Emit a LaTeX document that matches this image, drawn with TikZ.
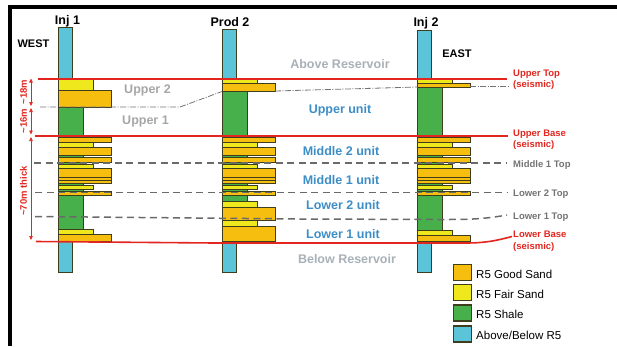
\documentclass[tikz,border=0pt]{standalone}
\usepackage{fontspec}
\setmainfont{Liberation Sans}
\usetikzlibrary{arrows.meta}

\definecolor{goodsand}{HTML}{F6BE0E}
\definecolor{fairsand}{HTML}{EEE81C}
\definecolor{shalegreen}{HTML}{47B04A}
\definecolor{outsidecyan}{HTML}{5CC4D8}
\definecolor{welledge}{HTML}{3E3E1C}
\definecolor{seisred}{HTML}{E2261F}
\definecolor{unitblue}{HTML}{3D8DC6}
\definecolor{zonegray}{HTML}{A8B0B8}
\definecolor{subgray}{HTML}{A6A6A6}
\definecolor{topgray}{HTML}{737373}
\definecolor{dashgray}{HTML}{6A6A6A}

% bar widths (pt) of each lithology in a well log
\def\wgood{53}
\def\wfair{35}
\def\wshale{25}

\tikzset{
  good/.style={fill=goodsand, draw=welledge, line width=0.7pt},
  fair/.style={fill=fairsand, draw=welledge, line width=0.7pt},
  shale/.style={fill=shalegreen, draw=welledge, line width=0.7pt},
  outside/.style={fill=outsidecyan, draw=welledge, line width=0.7pt},
  seisline/.style={draw=seisred, line width=1.6pt},
  toplineD/.style={draw=dashgray, line width=1.5pt, dash pattern=on 7pt off 4.5pt},
  thinline/.style={draw=topgray, line width=0.8pt, dash pattern=on 6pt off 1.5pt on 1pt off 1.5pt},
  welllbl/.style={font=\fontsize{12.5}{14}\selectfont\bfseries, anchor=base, inner sep=0pt},
  sidelbl/.style={font=\fontsize{11}{13}\selectfont\bfseries, anchor=base, inner sep=0pt},
  zonelbl/.style={font=\fontsize{12.5}{14}\selectfont\bfseries, text=zonegray, anchor=base, inner sep=0pt},
  sublbl/.style={font=\fontsize{12.5}{14}\selectfont\bfseries, text=subgray, anchor=base, inner sep=0pt},
  unitlbl/.style={font=\fontsize{12.5}{14}\selectfont\bfseries, text=unitblue, anchor=base, inner sep=0pt},
  redlbl/.style={font=\fontsize{9.5}{11}\selectfont\bfseries, text=seisred, anchor=base west, inner sep=0pt},
  graylbl/.style={font=\fontsize{9.5}{11}\selectfont\bfseries, text=topgray, anchor=base west, inner sep=0pt},
  thicklbl/.style={font=\fontsize{9.5}{11}\selectfont\bfseries, text=seisred, rotate=90, inner sep=0pt},
  thickarrow/.style={draw=seisred, line width=0.6pt, {Triangle[length=4pt,width=3.5pt]}-{Triangle[length=4pt,width=3.5pt]}},
  legbox/.style={draw=welledge, line width=1.1pt, minimum width=18pt, minimum height=16pt, inner sep=0pt},
  legtext/.style={font=\fontsize{11.5}{13}\selectfont, anchor=base west, inner sep=0pt}
}

% a well log: #1 left edge, #2 top of the cap above the reservoir, #3 beds
\newcommand\welllog[3]{%
  \draw[outside] (#1,#2) rectangle ({#1+14},79);
  \draw[outside] (#1,241.5) rectangle ({#1+14},272);
  \draw[shale] (#1,79) rectangle ({#1+\wshale},241.5);
  \foreach \t/\b/\s in {#3} {
    \draw[\s] (#1,\t) rectangle ({#1+\csname w\s\endcsname},\b);
  }
  \foreach \t/\b/\s in {137/142/good, 142/147/fair, 147/155/good, 155/157.5/shale,
      157.5/162/good, 162/164.5/shale, 164.5/168.5/fair, 168.5/177/good, 177/180/good,
      180/183/good, 183/185.5/shale, 185.5/189/fair, 189/191/shale, 191/195/good} {
    \draw[\s] (#1,\t) rectangle ({#1+\csname w\s\endcsname},\b);
  }
}

\begin{document}
\begin{tikzpicture}[x=1pt, y=-1pt]
\useasboundingbox (0,0) rectangle (617,346);

% frame
\draw[line width=3.5pt] (8,7) -- (617,7);
\draw[line width=4pt] (10,5.25) -- (10,346);

% wells
\welllog{58}{27.5}{79/90/fair, 90/107.5/good, 229.5/234/fair, 234/241.5/good}
\welllog{222}{29}{79/83/fair, 83/91/good, 201.5/207/fair, 207/220.5/good, 220.5/226/fair, 226/241.5/good}
\welllog{417}{30}{79/83/fair, 83/87/good, 230/235/fair, 235/241.5/good}

% well names and directions
\node[welllbl] (inj1) at (67.5,24) {Inj 1};
\node[welllbl] (prod2) at (230,26) {Prod 2};
\node[welllbl] (inj2) at (426,26) {Inj 2};
\node[sidelbl] (west) at (33.5,47) {WEST};
\node[sidelbl] (east) at (457,57) {EAST};

% seismic horizons
\coordinate (ut-w) at (38,79);   \coordinate (ut-e) at (507,79);
\coordinate (ub-w) at (35,136);  \coordinate (ub-e) at (508,136);
\coordinate (lb-w) at (36,241.5); \coordinate (lb-m) at (215,243); \coordinate (lb-k) at (465,243); \coordinate (lb-e) at (512,236.5);
\draw[seisline] (ut-w) -- (ut-e);
\draw[seisline] (ub-w) -- (ub-e);
\draw[seisline] (lb-w) -- (lb-m) -- (lb-k) to[out=0, in=195] (lb-e);

% well-picked tops
\coordinate (m1-w) at (34,163);  \coordinate (m1-e) at (507,163);
\coordinate (l2-w) at (35,192.5); \coordinate (l2-e) at (507,192.5);
\coordinate (l1-w) at (35,216.5); \coordinate (l1-m) at (300,219); \coordinate (l1-k) at (440,219.5); \coordinate (l1-e) at (507,215);
\draw[toplineD] (m1-w) -- (m1-e);
\draw[toplineD] (l2-w) -- (l2-e);
\draw[toplineD] (l1-w) -- (l1-m) -- (l1-k) to[out=0, in=190] (l1-e);

% Upper 1 top
\coordinate (u1-a) at (40,107); \coordinate (u1-b) at (180,107); \coordinate (u1-c) at (222,91.5);
\coordinate (u1-d) at (275,91); \coordinate (u1-e) at (418,87);
\coordinate (u1-f) at (470,86); \coordinate (u1-g) at (508,86);
\draw[thinline] (u1-a) -- (u1-b) -- (u1-c);
\draw[thinline] (u1-d) -- (u1-e);
\draw[thinline] (u1-f) -- (u1-g);

% zone and unit names
\node[zonelbl] (above) at (340,68) {Above Reservoir};
\node[zonelbl] (below) at (347,263) {Below Reservoir};
\node[sublbl] (upper2) at (147.5,93) {Upper 2};
\node[sublbl] (upper1) at (145.5,124) {Upper 1};
\node[unitlbl] (upperunit) at (340,113.5) {Upper unit};
\node[unitlbl] (mid2) at (341,155) {Middle 2 unit};
\node[unitlbl] (mid1) at (341,184.5) {Middle 1 unit};
\node[unitlbl] (low2) at (343,209.5) {Lower 2 unit};
\node[unitlbl] (low1) at (343,238) {Lower 1 unit};

% horizon names on the right
\node[redlbl] (ut1) at (513,76.5) {Upper Top};
\node[redlbl] (ut2) at (513,87) {(seismic)};
\node[redlbl] (ub1) at (513,136) {Upper Base};
\node[redlbl] (ub2) at (513,147) {(seismic)};
\node[graylbl] (m1t) at (513,167) {Middle 1 Top};
\node[graylbl] (l2t) at (513,196) {Lower 2 Top};
\node[graylbl] (l1t) at (513,219.5) {Lower 1 Top};
\node[redlbl] (lb1) at (513,237) {Lower Base};
\node[redlbl] (lb2) at (513,249) {(seismic)};

% thicknesses
\coordinate (a1t) at (31,78.5);  \coordinate (a1b) at (31,106);
\coordinate (a2t) at (31,108);   \coordinate (a2b) at (31,134.5);
\coordinate (a3t) at (31,137);   \coordinate (a3b) at (31,240);
\draw[thickarrow] (a1t) -- (a1b);
\draw[thickarrow] (a2t) -- (a2b);
\draw[thickarrow] (a3t) -- (a3b);
\node[thicklbl] (t18) at (23.5,92) {\textasciitilde18m};
\node[thicklbl] (t16) at (23.5,121) {\textasciitilde16m};
\node[thicklbl] (t70) at (23.5,191) {\textasciitilde70m thick};

% legend
\node[legbox, fill=goodsand] (k1) at (462.5,272.5) {};
\node[legbox, fill=fairsand] (k2) at (462.5,292.5) {};
\node[legbox, fill=shalegreen] (k3) at (462.5,313) {};
\node[legbox, fill=outsidecyan] (k4) at (462.5,334) {};
\node[legtext] (k1t) at (476,278) {R5 Good Sand};
\node[legtext] (k2t) at (476,298) {R5 Fair Sand};
\node[legtext] (k3t) at (476,318.5) {R5 Shale};
\node[legtext] (k4t) at (476,339) {Above/Below R5};
\end{tikzpicture}
\end{document}
